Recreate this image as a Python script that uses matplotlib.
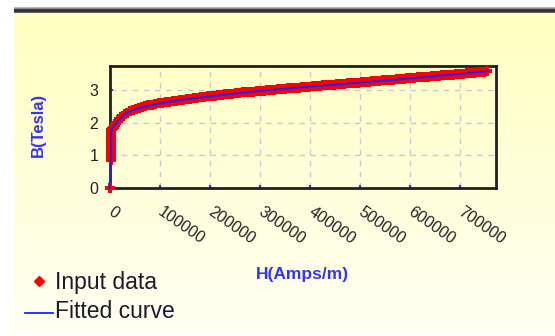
import numpy as np
import matplotlib
matplotlib.use("Agg")
import matplotlib.pyplot as plt
from matplotlib.lines import Line2D

# ---- data ----
H_data = [0, 2500, 2500, 2600, 2700, 2800, 2900, 3000, 3100, 3200, 3400, 3600,
          4000, 6000, 8000, 10000, 13000, 16000, 19000, 22000, 26000, 30000,
          35000, 40000, 46000, 52000, 58000, 64000, 70000, 77000, 84000, 91000,
          98000, 105000, 112000, 119000, 126000, 133000, 140000, 147000, 154000,
          161000, 168000, 175000, 182000, 189000, 196000, 203000, 210000, 217000,
          224000, 231000, 238000, 245000, 252000, 259000, 266000, 273000, 280000,
          287000, 294000, 301000, 308000, 315000, 322000, 329000, 336000, 343000,
          350000, 357000, 364000, 371000, 378000, 385000, 392000, 399000, 406000,
          413000, 420000, 427000, 434000, 441000, 448000, 455000, 462000, 469000,
          476000, 483000, 490000, 497000, 504000, 511000, 518000, 525000, 532000,
          539000, 546000, 553000, 560000, 567000, 574000, 581000, 588000, 595000,
          602000, 609000, 616000, 623000, 630000, 637000, 644000, 651000, 658000,
          665000, 672000, 679000, 686000, 693000, 700000, 707000, 714000, 721000,
          728000, 735000, 742000, 749000, 755000]
B_data = [0, 0.85, 0.95, 1.05, 1.15, 1.25, 1.35, 1.45, 1.55, 1.62, 1.70, 1.76,
          1.80, 1.84, 1.88, 1.93, 1.99, 2.05, 2.11, 2.16, 2.21, 2.25,
          2.30, 2.34, 2.38, 2.42, 2.45, 2.48, 2.50, 2.53, 2.55, 2.57,
          2.59, 2.61, 2.63, 2.64, 2.66, 2.67, 2.69, 2.70, 2.72,
          2.73, 2.74, 2.76, 2.77, 2.78, 2.80, 2.81, 2.82, 2.84,
          2.85, 2.86, 2.87, 2.88, 2.90, 2.91, 2.92, 2.93, 2.94,
          2.95, 2.96, 2.97, 2.98, 2.99, 3.00, 3.01, 3.02, 3.03,
          3.04, 3.05, 3.06, 3.07, 3.07, 3.08, 3.09, 3.10, 3.11,
          3.12, 3.13, 3.14, 3.14, 3.15, 3.16, 3.17, 3.18, 3.19,
          3.20, 3.21, 3.22, 3.22, 3.23, 3.24, 3.25, 3.26, 3.27,
          3.28, 3.29, 3.30, 3.30, 3.31, 3.32, 3.33, 3.34, 3.35,
          3.36, 3.37, 3.38, 3.39, 3.39, 3.40, 3.41, 3.42, 3.43,
          3.44, 3.45, 3.46, 3.47, 3.48, 3.49, 3.50, 3.51, 3.52,
          3.53, 3.54, 3.55, 3.56, 3.58]

H_fit = [0, 2500, 3000, 4000, 8000, 15000, 25000, 40000, 60000, 100000, 150000,
         200000, 300000, 400000, 500000, 600000, 700000, 755000]
B_fit = [0, 0.80, 1.60, 1.80, 1.88, 2.03, 2.20, 2.34, 2.45, 2.59, 2.71,
         2.80, 2.97, 3.10, 3.22, 3.35, 3.49, 3.57]

x_ticks = [0, 100000, 200000, 300000, 400000, 500000, 600000, 700000]
x_tick_labels = ["0", "100000", "200000", "300000", "400000", "500000", "600000", "700000"]
y_ticks = [0, 1, 2, 3]
y_tick_labels = ["0", "1", "2", "3"]

W, Hpx = 555, 336
fig = plt.figure(figsize=(W / 100, Hpx / 100), dpi=100)
fig.patch.set_facecolor("white")

# background panel with gradient + dark top bar
bg = np.ones((Hpx, W, 3))
top, bot, left = 13, 332, 14
t = np.linspace(0, 1, bot - top)[:, None]
c_top = np.array([1.0, 1.0, 0.75])
c_bot = np.array([1.0, 1.0, 0.95])
grad = c_top * (1 - t) + c_bot * t
bg[top:bot, left:, :] = grad[:, None, :]
bar = [0.72, 0.55, 0.25, 0.18, 0.22, 0.38]
for i, v in enumerate(bar):
    bg[7 + i, left:, :] = v
bgax = fig.add_axes([0, 0, 1, 1])
bgax.imshow(bg, aspect="auto", extent=(0, W, Hpx, 0), interpolation="nearest")
bgax.set_axis_off()
bgax.set_zorder(-10)

ax = fig.add_axes([109.5 / W, (Hpx - 188) / Hpx, (496 - 109.5) / W, (188 - 66) / Hpx])
ax.patch.set_alpha(0)

ax.plot(H_data, B_data, linestyle="none", marker="P", markersize=7,
        color="#ff0000", markeredgewidth=0, zorder=3, clip_on=False)
ax.plot(H_fit, B_fit, color="#2020ff", lw=1.4, zorder=4, clip_on=False)

ax.set_xlim(0, 772000)
ax.set_ylim(0, 3.73)
ax.set_xticks(x_ticks)
ax.set_yticks(y_ticks)
ax.set_yticklabels(y_tick_labels, fontsize=11.5, family="Liberation Sans", color="#222222")
ax.set_xticklabels(x_tick_labels, fontsize=11.5, family="Liberation Sans", color="#222222",
                   rotation=-35, rotation_mode="anchor", ha="left", va="center")
ax.tick_params(axis="both", direction="in", length=2, width=1.5, color="#3030ff")
ax.tick_params(axis="y", pad=8)
ax.tick_params(axis="x", pad=16)

ax.grid(True, color="#c8c8dc", lw=1, linestyle=(0, (4, 4)))
for s in ax.spines.values():
    s.set_linewidth(2)
    s.set_color("#202020")

fig.text(38 / W, 1 - 125 / Hpx, "B(Tesla)", rotation=90, ha="center", va="center",
         fontsize=12, fontweight="bold", color="#3333ff", family="Liberation Sans")
fig.text(302 / W, 1 - 274 / Hpx, "H(Amps/m)", ha="center", va="center",
         fontsize=12.5, fontweight="bold", color="#3333ff", family="Liberation Sans")

# legend
fig.add_artist(Line2D([39 / W], [1 - 281 / Hpx], marker="D", markersize=5,
                      color="#ff0000", linestyle="none", transform=fig.transFigure))
fig.add_artist(Line2D([25 / W, 53 / W], [1 - 313 / Hpx, 1 - 313 / Hpx],
                      color="#2020ff", lw=1.3, transform=fig.transFigure))
fig.text(55 / W, 1 - 283 / Hpx, "Input data", ha="left", va="center",
         fontsize=16.5, color="#1a1a2a", family="Liberation Sans")
fig.text(55 / W, 1 - 312 / Hpx, "Fitted curve", ha="left", va="center",
         fontsize=16.5, color="#1a1a2a", family="Liberation Sans")

fig.savefig("out.png", dpi=100)
